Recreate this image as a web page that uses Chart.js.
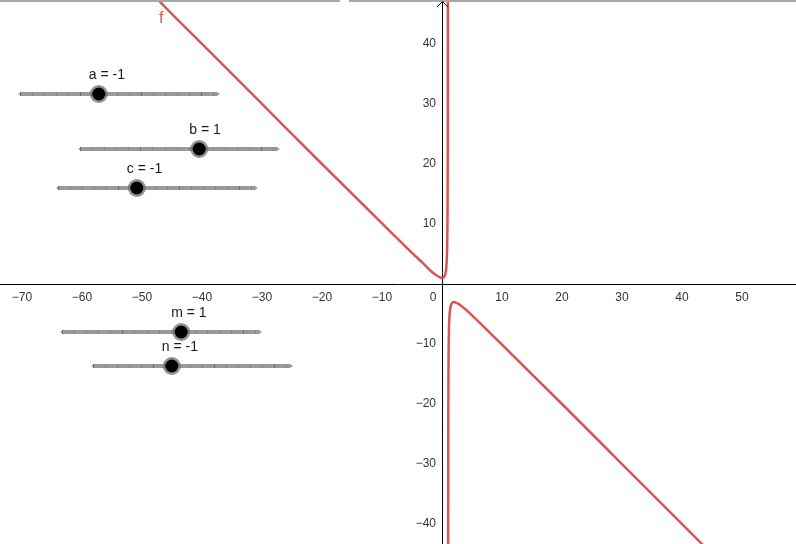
<!DOCTYPE html>
<html>
<head>
<meta charset="utf-8">
<script src="https://cdn.jsdelivr.net/npm/chart.js"></script>
<style>
  body { margin: 0; background: #fff; }
  #wrap { width: 796px; height: 544px; }
</style>
</head>
<body>
<div id="wrap"><canvas id="graph" width="796" height="544"></canvas></div>
<script>
// f: left branch (x < 1) and right branch (x > 1)
var leftX  = [-74, -60, -47, -40, -30, -20, -10, -5, -3, -2, -1, -0.5, 0, 0.3, 0.5, 0.6, 0.7, 0.75, 0.8, 0.85, 0.9, 0.93, 0.95, 0.96, 0.97, 0.98];
var leftY  = [74, 60, 47, 40, 30, 20, 10.1, 5.2, 3.3, 2.3, 1.5, 1.2, 1, 1.1, 1.5, 1.9, 2.6, 3.25, 4.2, 5.8, 9.1, 13.4, 19, 24, 32.4, 49];
var rightX = [1.02, 1.03, 1.04, 1.05, 1.07, 1.1, 1.15, 1.2, 1.25, 1.3, 1.4, 1.5, 1.7, 2, 2.5, 3, 4, 6, 10, 20, 30, 44, 60];
var rightY = [-51, -34.4, -26, -21, -15.4, -11.1, -7.8, -6.2, -5.25, -4.6, -3.9, -3.5, -3.1, -3, -3.2, -3.5, -4.3, -6.2, -10.1, -20, -30, -44, -60];

var xTicks = [-70, -60, -50, -40, -30, -20, -10, 0, 10, 20, 30, 40, 50];
var yTicks = [-40, -30, -20, -10, 10, 20, 30, 40];

var sliderNames  = ["a", "b", "c", "m", "n"];
var sliderValues = [-1, 1, -1, 1, -1];
var sliderMin = -5, sliderMax = 5;

// view window of the graphics panel
var xMin = -73.67, xMax = 59, yMin = -43.33, yMax = 47.33;

// where the slider widgets sit on screen
var sliderBox = [
  {left: 18, top: 94},
  {left: 78, top: 149},
  {left: 56, top: 188},
  {left: 60, top: 332},
  {left: 91, top: 366}
];
var sliderLen = 202;

var red = "rgb(219, 84, 84)";
var font = "'Liberation Sans', Arial, sans-serif";

function pts(xs, ys) {
  return xs.map(function(x, i) { return {x: x, y: ys[i]}; });
}

function minus(v) {
  return v < 0 ? "\u2212" + (-v) : "" + v;
}

// axes sit inside the plot, so they must not shrink it
function noPad(scale) {
  scale.paddingTop = 0;
  scale.paddingBottom = 0;
  scale.paddingLeft = 0;
  scale.paddingRight = 0;
}

var decor = {
  id: "decor",
  afterDraw: function(chart) {
    var ctx = chart.ctx;
    var sx = chart.scales.x, sy = chart.scales.y;
    var ox = sx.getPixelForValue(0);
    var top = chart.chartArea.top;
    ctx.save();

    // panel border at the top
    ctx.strokeStyle = "#a8a8a8";
    ctx.lineWidth = 2;
    ctx.beginPath();
    ctx.moveTo(0, 1); ctx.lineTo(340, 1);
    ctx.moveTo(349, 1); ctx.lineTo(chart.width, 1);
    ctx.stroke();

    // arrow on the y axis
    ctx.strokeStyle = "#000";
    ctx.lineWidth = 1;
    ctx.beginPath();
    ctx.moveTo(ox - 5, top + 7);
    ctx.lineTo(ox + 0.5, top + 1.5);
    ctx.lineTo(ox + 6, top + 7);
    ctx.stroke();

    // function name
    ctx.fillStyle = red;
    ctx.font = "16px " + font;
    ctx.textAlign = "center";
    ctx.textBaseline = "middle";
    ctx.fillText("f", sx.getPixelForValue(-46.8), sy.getPixelForValue(44.3));

    // sliders
    sliderNames.forEach(function(name, i) {
      var b = sliderBox[i];
      var x0 = b.left, x1 = b.left + sliderLen, y = b.top;
      ctx.strokeStyle = "#9a9a9a";
      ctx.lineWidth = 4;
      ctx.lineCap = "butt";
      ctx.beginPath();
      ctx.moveTo(x0 + 3, y); ctx.lineTo(x1 - 3, y);
      ctx.stroke();
      ctx.fillStyle = "#9a9a9a";
      ctx.beginPath();
      ctx.moveTo(x0, y); ctx.lineTo(x0 + 4, y - 2.5); ctx.lineTo(x0 + 4, y + 2.5);
      ctx.closePath(); ctx.fill();
      ctx.beginPath();
      ctx.moveTo(x1, y); ctx.lineTo(x1 - 4, y - 2.5); ctx.lineTo(x1 - 4, y + 2.5);
      ctx.closePath(); ctx.fill();

      ctx.lineWidth = 1;
      for (var k = 0; k <= 16; k++) {
        var tx = Math.round(x0 + 2 + k * 12.08) + 0.5;
        ctx.strokeStyle = k % 5 === 0 ? "#6a6a6a" : "#858585";
        ctx.beginPath();
        ctx.moveTo(tx, y - 2); ctx.lineTo(tx, y + 2);
        ctx.stroke();
      }

      var v = sliderValues[i];
      var kx = x0 + (v - sliderMin) / (sliderMax - sliderMin) * sliderLen;
      ctx.fillStyle = "rgba(110, 110, 110, 0.75)";
      ctx.beginPath(); ctx.arc(kx, y, 9, 0, Math.PI * 2); ctx.fill();
      ctx.fillStyle = "#000";
      ctx.beginPath(); ctx.arc(kx, y, 6.5, 0, Math.PI * 2); ctx.fill();

      ctx.fillStyle = "#1a1a1a";
      ctx.font = "14px " + font;
      ctx.textAlign = "left";
      ctx.textBaseline = "alphabetic";
      ctx.fillText(name + " = " + v, kx - 10, y - 15);
    });
    ctx.restore();
  }
};

new Chart("graph", {
  type: "line",
  data: {
    datasets: [{
      data: pts(leftX, leftY),
      borderColor: red,
      borderWidth: 2.5,
      pointRadius: 0,
      cubicInterpolationMode: "monotone",
      fill: false
    }, {
      data: pts(rightX, rightY),
      borderColor: red,
      borderWidth: 2.5,
      pointRadius: 0,
      cubicInterpolationMode: "monotone",
      fill: false
    }]
  },
  options: {
    responsive: false,
    animation: false,
    layout: {padding: 0},
    plugins: {
      legend: {display: false},
      tooltip: {enabled: false}
    },
    scales: {
      x: {
        type: "linear",
        min: xMin,
        max: xMax,
        position: {y: 0},
        afterBuildTicks: function(scale) {
          scale.ticks = xTicks.map(function(v) { return {value: v}; });
        },
        afterFit: noPad,
        grid: {display: false, drawTicks: false},
        border: {display: true, color: "#000", width: 1},
        ticks: {
          padding: 6,
          autoSkip: false,
          maxRotation: 0,
          color: "#333",
          font: {size: 12, family: font},
          callback: function(v) {
            if (v === 0) return "0\u2002\u2002\u2002";
            return minus(v);
          }
        }
      },
      y: {
        type: "linear",
        min: yMin,
        max: yMax,
        position: {x: 0},
        afterBuildTicks: function(scale) {
          scale.ticks = yTicks.map(function(v) { return {value: v}; });
        },
        afterFit: noPad,
        grid: {display: false, drawTicks: false},
        border: {display: true, color: "#000", width: 1},
        ticks: {
          autoSkip: false,
          color: "#333",
          font: {size: 12, family: font},
          // labels hug the axis here, so a trailing space keeps them off it
          callback: function(v) { return minus(v) + "\u2002"; }
        }
      }
    }
  },
  plugins: [decor]
});
</script>
</body>
</html>
